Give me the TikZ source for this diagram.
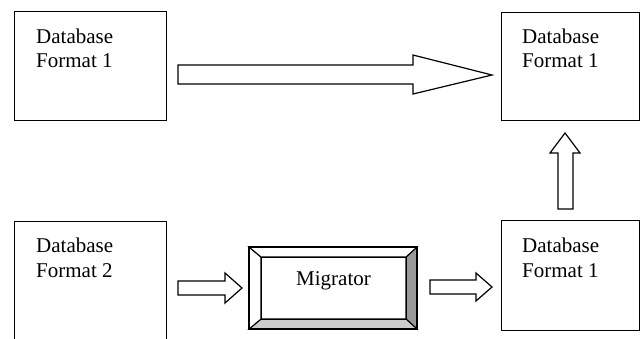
\documentclass[tikz,border=0pt]{standalone}
\usepackage{fontspec}
\setmainfont{Liberation Serif}
\begin{document}
\begin{tikzpicture}[x=1pt,y=-1pt,
  dbbox/.style={draw,line width=1.1pt,rectangle,inner sep=0pt,anchor=north west},
  dbtext/.style={anchor=base west,inner sep=0pt,font=\fontsize{21}{24}\selectfont},
  blockarrow/.style={draw,line width=1.2pt,fill=white,line join=miter},
  bevel/.style={draw,line width=1.1pt,line join=miter}]
\useasboundingbox (0,0) rectangle (640,338);
\clip (0,0) rectangle (640,338);
% boxes
\node[dbbox,minimum width=152pt,minimum height=109pt] (tl) at (14,11) {};
\node[dbbox,minimum width=138pt,minimum height=108pt] (tr) at (501,12) {};
\node[dbbox,minimum width=138pt,minimum height=110pt] (br) at (501,220) {};
\node[dbbox,minimum width=152pt,minimum height=140pt] (bl) at (14,221) {};
% texts
\node[dbtext] (tla) at (36,43) {Database};
\node[dbtext] (tlb) at (36,67) {Format 1};
\node[dbtext] (tra) at (522,43) {Database};
\node[dbtext] (trb) at (522,67) {Format 1};
\node[dbtext] (bra) at (522,252) {Database};
\node[dbtext] (brb) at (522,277) {Format 1};
\node[dbtext] (bla) at (36,252) {Database};
\node[dbtext] (blb) at (36,277) {Format 2};
% migrator
\coordinate (mo1) at (249,247);
\coordinate (mo2) at (417,329);
\coordinate (mi1) at (261,257);
\coordinate (mi2) at (406,319);
\fill[white] (mo1) rectangle (mo2);
\path[bevel,fill=black!40] (417,247) -- (417,329) -- (406,319) -- (406,257) -- cycle;
\path[bevel,fill=black!20] (249,329) -- (417,329) -- (406,319) -- (261,319) -- cycle;
\path[bevel,fill=white] (249,247) -- (261,257) -- (261,319) -- (249,329) -- cycle;
\path[bevel,fill=white] (249,247) -- (417,247) -- (406,257) -- (261,257) -- cycle;
\node[draw,line width=1.1pt,inner sep=0pt,minimum width=145pt,minimum height=62pt,anchor=north west] (mig) at (mi1) {};
\draw[line width=1.8pt] (mo1) rectangle (mo2);
\node[anchor=base,inner sep=0pt,font=\fontsize{21}{24}\selectfont] (migt) at (333.5,285) {Migrator};
% arrows
\draw[blockarrow] (178,65) -- (413,65) -- (413,55) -- (492,75) -- (413,94) -- (413,84) -- (178,84) -- cycle;
\draw[blockarrow] (558,209) -- (558,153) -- (550,153) -- (565,133) -- (580,153) -- (573,153) -- (573,209) -- cycle;
\draw[blockarrow] (178,281) -- (225,281) -- (225,273) -- (242,288) -- (225,303) -- (225,295) -- (178,295) -- cycle;
\draw[blockarrow] (430,280) -- (476,280) -- (476,273) -- (492,287) -- (476,301) -- (476,294) -- (430,294) -- cycle;
\end{tikzpicture}
\end{document}
